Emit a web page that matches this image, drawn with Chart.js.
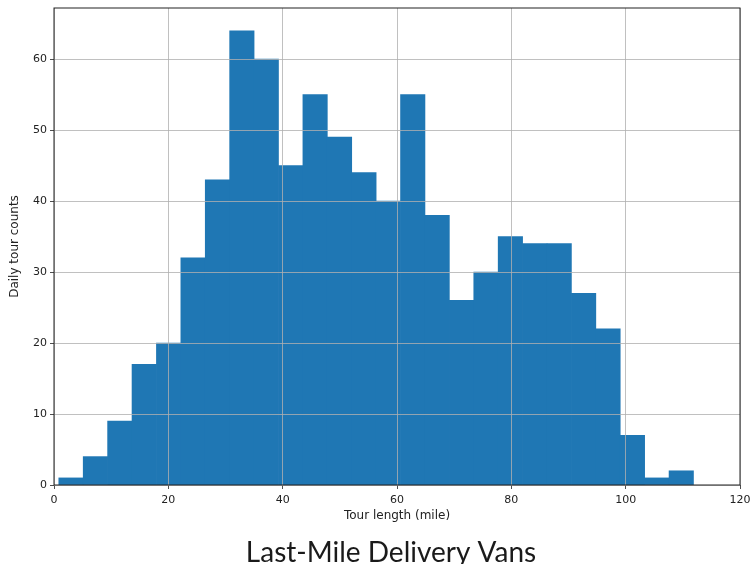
<!DOCTYPE html>
<html lang="en">
<head>
    <meta charset="UTF-8">
    <title>Last-Mile Delivery Vans</title>
    <style>
        html, body { margin: 0; padding: 0; background: #fff; }
        .chart-box { width: 752px; height: 564px; position: relative; }
    </style>
</head>
<body>

<div class="chart-box">
    <canvas id="tourChart"></canvas>
</div>

<script src="https://cdn.jsdelivr.net/npm/chart.js"></script>
<script>
    // histogram counts, one per bin (26 bins)
    const counts = [1, 4, 9, 17, 20, 32, 43, 64, 60, 45, 55, 49, 44, 40, 55, 38, 26, 30, 35, 34, 34, 27, 22, 7, 1, 2];
    const binStart = 0.84;   // left edge of first bin (miles)
    const binWidth = 4.27;   // width of each bin (miles)
    const xTicks = [0, 20, 40, 60, 80, 100, 120];
    const yTicks = [0, 10, 20, 30, 40, 50, 60];

    const chartTitle = 'Last-Mile Delivery Vans';
    const xLabel = 'Tour length (mile)';
    const yLabel = 'Daily tour counts';

    const barData = counts.map((c, i) => ({ x: binStart + binWidth * (i + 0.5), y: c }));

    // black frame round the plot area, like matplotlib spines
    const framePlugin = {
        id: 'frame',
        afterDraw(chart) {
            const a = chart.chartArea;
            const c = chart.ctx;
            c.save();
            c.strokeStyle = '#222';
            c.lineWidth = 1;
            c.strokeRect(a.left, a.top, a.right - a.left, a.bottom - a.top);
            c.restore();
        }
    };

    // the big caption under the chart
    const captionPlugin = {
        id: 'caption',
        afterDraw(chart) {
            const c = chart.ctx;
            c.save();
            c.fillStyle = '#1a1a1a';
            c.font = '28px Lato';
            c.textAlign = 'center';
            c.textBaseline = 'alphabetic';
            c.fillText(chartTitle, 391, 562);
            c.restore();
        }
    };

    const ctx = document.getElementById('tourChart').getContext('2d');
    new Chart(ctx, {
        type: 'bar',
        data: {
            datasets: [{
                data: barData,
                backgroundColor: '#1f77b4',
                borderWidth: 0,
                barPercentage: 1.0,
                categoryPercentage: 1.0,
            }]
        },
        options: {
            responsive: true,
            maintainAspectRatio: false,
            animation: false,
            layout: { padding: { top: 8, right: 12, left: 0, bottom: 0 } },
            plugins: {
                legend: { display: false },
                tooltip: { enabled: false },
            },
            scales: {
                x: {
                    type: 'linear',
                    min: 0,
                    max: 120,
                    offset: false,
                    afterBuildTicks: (s) => { s.ticks = xTicks.map(v => ({ value: v })); },
                    afterFit: (s) => { s.height = 79; s.paddingLeft = 0; s.paddingRight = 0; },
                    grid: { offset: false, color: '#b0b0b0', lineWidth: 0.8, z: 1, tickColor: '#222', tickLength: 4, drawTicks: true },
                    border: { display: false },
                    ticks: { color: '#222', font: { family: 'DejaVu Sans', size: 11 }, padding: 5, maxRotation: 0 },
                    title: { display: true, text: xLabel, color: '#222', font: { family: 'DejaVu Sans', size: 12 }, padding: { top: 2, bottom: 41 } },
                },
                y: {
                    min: 0,
                    max: 67.2,
                    afterBuildTicks: (s) => { s.ticks = yTicks.map(v => ({ value: v })); },
                    afterFit: (s) => { s.width = 54; s.paddingTop = 0; s.paddingBottom = 0; },
                    grid: { color: '#b0b0b0', lineWidth: 0.8, z: 1, tickColor: '#222', tickLength: 4, drawTicks: true },
                    border: { display: false },
                    ticks: { color: '#222', font: { family: 'DejaVu Sans', size: 11 }, padding: 3 },
                    title: { display: true, text: yLabel, color: '#222', font: { family: 'DejaVu Sans', size: 12 }, padding: { top: 8, bottom: 4 } },
                },
            },
        },
        plugins: [framePlugin, captionPlugin]
    });
</script>

</body>
</html>
